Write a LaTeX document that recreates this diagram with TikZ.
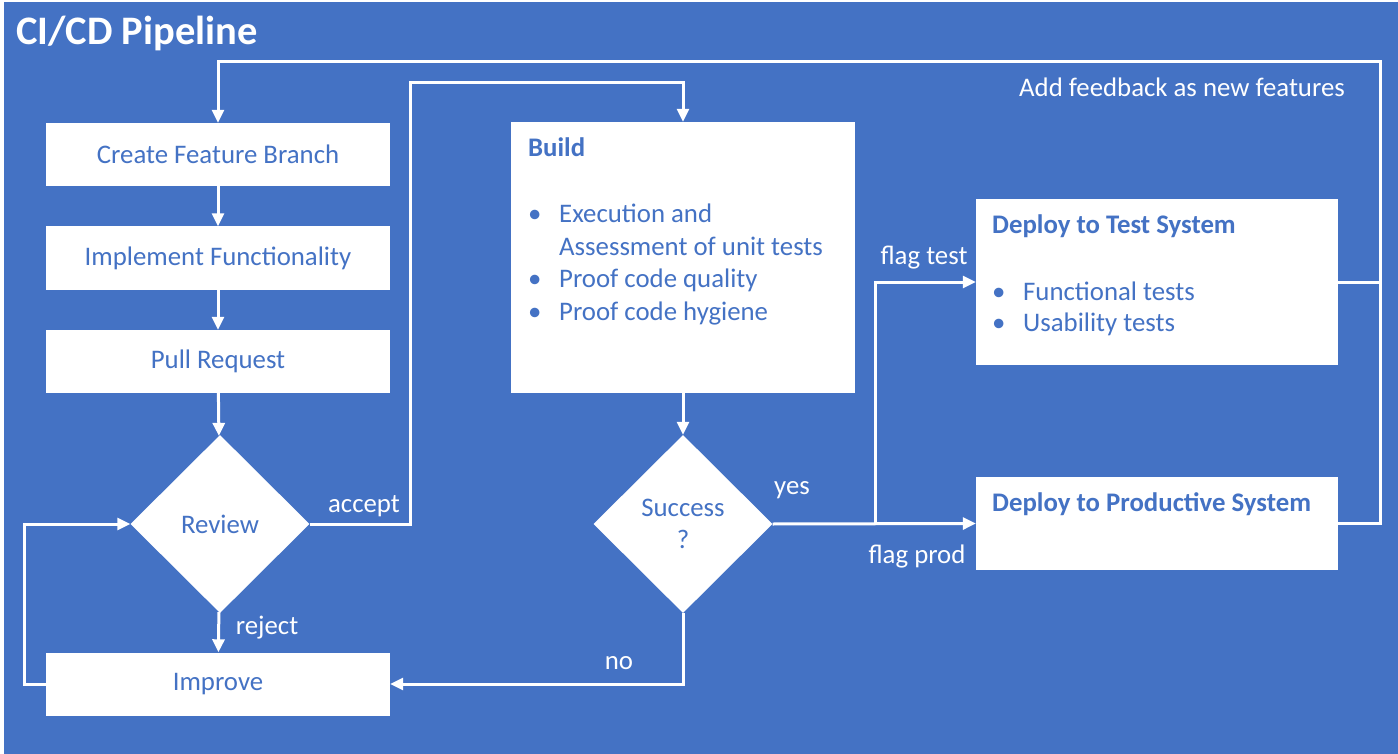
\documentclass[tikz,border=0pt]{standalone}
\usepackage{fontspec}
\setmainfont{Carlito}
\usetikzlibrary{shapes.geometric,arrows.meta}
\definecolor{pipeblue}{HTML}{4472C4}
\begin{document}
\begin{tikzpicture}[x=1pt,y=-1pt,
    every node/.style={font=\fontsize{26.8}{32.5}\selectfont},
    stepbox/.style ={rectangle, fill=white, text=pipeblue, inner sep=0pt, minimum width=344pt, minimum height=63pt},
    bigbox/.style ={rectangle, fill=white, inner sep=0pt},
    decision/.style ={diamond, fill=white, text=pipeblue, inner sep=0pt, minimum width=179pt, minimum height=178pt, align=center},
    boxtext/.style ={text=pipeblue, inner sep=0pt, anchor=base west},
    flowlabel/.style ={text=white, inner sep=0pt},
    flow/.style ={white, line width=3pt},
    arr/.style ={-{Triangle[length=13pt,width=12pt]}}]
   % background
   \fill[white] (0,0) rectangle (1398,754);
   \fill[pipeblue] (4,2) rectangle (1398,754);
   \useasboundingbox (0,0) rectangle (1398,754);
   \node[flowlabel, anchor=west, font=\fontsize{40.5}{46}\selectfont\bfseries] (title) at (16,33) {CI/CD Pipeline};

   % left column
   \node[stepbox] (create)  at (218,154.5) {Create Feature Branch};
   \node[stepbox] (impl)    at (218,258)   {Implement Functionality};
   \node[stepbox] (pull)    at (218,361.5) {Pull Request};
   \node[decision] (review) at (220,524)   {Review};
   \node[stepbox] (improve) at (218,684)   {Improve};

   % build and check
   \node[bigbox, minimum width=344pt, minimum height=271pt] (build) at (683,257.5) {};
   \node[boxtext] (buildtext) at (528,157) {\begin{tabular}[t]{@{}p{31pt}@{}l@{}}
     \multicolumn{2}{@{}l}{\textbf{Build}}\\[33.5pt]
     \textbullet & Execution and\\
                 & Assessment of unit tests\\
     \textbullet & Proof code quality\\
     \textbullet & Proof code hygiene
   \end{tabular}};
   \node[decision] (success) at (683,524) {Success\\?};

   % deployment
   \node[bigbox, minimum width=362pt, minimum height=166pt] (test) at (1157,282) {};
   \node[boxtext] (testtext) at (992,234) {\begin{tabular}[t]{@{}p{31pt}@{}l@{}}
     \multicolumn{2}{@{}l}{\textbf{Deploy to Test System}}\\[34pt]
     \textbullet & Functional tests\\[-1.5pt]
     \textbullet & Usability tests
   \end{tabular}};
   \node[bigbox, minimum width=362pt, minimum height=93pt] (prod) at (1157,523.5) {};
   \node[boxtext] (prodtext) at (992,511) {\textbf{Deploy to Productive System}};

   % bend points
   \coordinate (fb)    at (1380,62);
   \coordinate (acc)   at (410,83);
   \coordinate (loop)  at (24,524);
   \coordinate (split) at (875,524);

   % connectors
   \draw[flow, arr] (create) -- (impl);
   \draw[flow, arr] (impl) -- (pull);
   \draw[flow, arr] (pull) -- (review);
   \draw[flow, arr] (review) -- (improve);
   \draw[flow, arr] (improve.west) -| (loop) -- (review.west);
   \draw[flow, arr] (review.east) -| (acc) -| (build.north);
   \draw[flow, arr] (build.south) -- (success.north);
   \draw[flow, arr] (success.south) |- (improve.east);
   \draw[flow, arr] (success.east) -- (prod.west);
   \draw[flow, arr] (split) |- (test.west);
   \draw[flow, arr] (test.east) -| (fb) -| (create.north);
   \draw[flow] (prod.east) -| (fb);

   % labels
   \node[flowlabel] (accept)   at (364,506)  {accept};
   \node[flowlabel] (reject)   at (267,628)  {reject};
   \node[flowlabel] (no)       at (619,663)  {no};
   \node[flowlabel] (yes)      at (792,490)  {yes};
   \node[flowlabel] (flagtest) at (924,258)  {flag test};
   \node[flowlabel] (flagprod) at (917,556)  {flag prod};
   \node[flowlabel] (feedback) at (1182,87)  {Add feedback as new features};
 \end{tikzpicture}
\end{document}
